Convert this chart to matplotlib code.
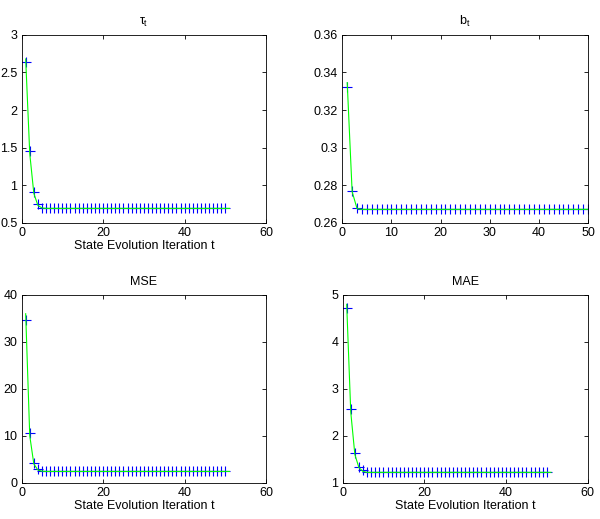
import numpy as np
import matplotlib
matplotlib.use("Agg")
import matplotlib.pyplot as plt
from matplotlib.ticker import FormatStrFormatter

plt.rcParams['font.family'] = ['Liberation Sans', 'DejaVu Sans']
plt.rcParams['mathtext.fontset'] = 'custom'
plt.rcParams['mathtext.rm'] = 'Liberation Sans'
plt.rcParams['mathtext.it'] = 'Liberation Sans'
plt.rcParams['font.size'] = 9

# empirical values (blue +), iterations 1..50; after the first few they are flat
tau_emp_head = [2.64, 1.45, 0.91, 0.75, 0.70]
tau_emp_tail = 0.69
b_emp_head = [0.3321, 0.277, 0.268]
b_emp_tail = 0.2671
mse_emp_head = [34.7, 10.5, 4.25, 2.9, 2.55]
mse_emp_tail = 2.4
mae_emp_head = [4.72, 2.58, 1.64, 1.34, 1.26]
mae_emp_tail = 1.22

# state evolution prediction (green line), iterations 1..51
tau_se_head = [2.68, 1.42, 0.89, 0.73, 0.695]
tau_se_tail = 0.69
b_se_head = [0.3346, 0.2765, 0.2675]
b_se_tail = 0.2671
mse_se_head = [36.0, 10.0, 4.0, 2.7, 2.45]
mse_se_tail = 2.4
mae_se_head = [4.80, 2.50, 1.60, 1.32, 1.24]
mae_se_tail = 1.22

n_emp = 50
n_se = 51


def fill(head, tail, n):
    return list(head) + [tail] * (n - len(head))


panels = [
    # title, emp, se, xlim, xticks, ylim, yticks, xlabel, position
    (r'$\tau_{\rm t}$', fill(tau_emp_head, tau_emp_tail, n_emp), fill(tau_se_head, tau_se_tail, n_se),
     (0, 60), [0, 20, 40, 60], (0.5, 3), [0.5, 1, 1.5, 2, 2.5, 3], True,
     [0.036, 0.571, 0.4075, 0.3617]),
    (r'$\rm b_t$', fill(b_emp_head, b_emp_tail, n_emp), fill(b_se_head, b_se_tail, n_se),
     (0, 50), [0, 10, 20, 30, 40, 50], (0.26, 0.36), [0.26, 0.28, 0.30, 0.32, 0.34, 0.36], False,
     [0.5705, 0.571, 0.4095, 0.3617]),
    ('MSE', fill(mse_emp_head, mse_emp_tail, n_emp), fill(mse_se_head, mse_se_tail, n_se),
     (0, 60), [0, 20, 40, 60], (0, 40), [0, 10, 20, 30, 40], True,
     [0.036, 0.070, 0.4075, 0.3617]),
    ('MAE', fill(mae_emp_head, mae_emp_tail, n_emp), fill(mae_se_head, mae_se_tail, n_se),
     (0, 60), [0, 20, 40, 60], (1, 5), [1, 2, 3, 4, 5], True,
     [0.571, 0.070, 0.4085, 0.3617]),
]

fig = plt.figure(figsize=(6.0, 5.19), dpi=100)

for title, emp, se, xlim, xticks, ylim, yticks, has_xlabel, pos in panels:
    ax = fig.add_axes(pos)
    t_emp = np.arange(1, len(emp) + 1)
    t_se = np.arange(1, len(se) + 1)
    ax.plot(t_emp, emp, linestyle='none', marker='+', color='#0000ff',
            markersize=6.5, markeredgewidth=0.8)
    ax.plot(t_se, se, color='#00ff00', linewidth=0.8)
    ax.set_xlim(*xlim)
    ax.set_ylim(*ylim)
    ax.set_xticks(xticks)
    ax.set_yticks(yticks)
    ax.yaxis.set_major_formatter(FormatStrFormatter('%g'))
    ax.tick_params(direction='in', top=True, right=True, length=3, width=0.6,
                   labelsize=9, pad=3)
    for s in ax.spines.values():
        s.set_linewidth(0.6)
    ax.set_title(title, fontsize=9, pad=7)
    if has_xlabel:
        ax.set_xlabel('State Evolution Iteration t', fontsize=9, labelpad=1)

fig.savefig('out.png', dpi=100)
